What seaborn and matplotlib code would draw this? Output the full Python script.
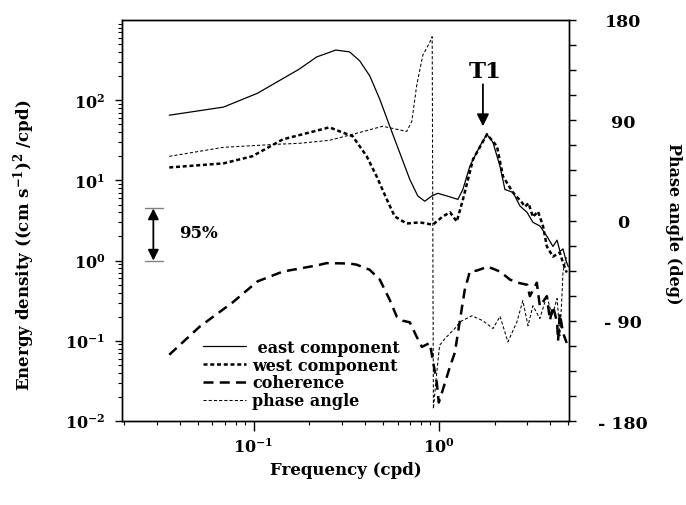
import numpy as np
import pandas as pd
import seaborn as sns
import matplotlib.pyplot as plt
from matplotlib.ticker import FixedLocator, FuncFormatter, LogLocator, MultipleLocator, NullFormatter

# datos (frecuencia en cpd)
freq_east = [0.0351, 0.0688, 0.105, 0.177, 0.219, 0.278, 0.330, 0.374, 0.424, 0.480,
             0.543, 0.615, 0.697, 0.770, 0.840, 0.917, 0.988, 1.105, 1.267, 1.348,
             1.471, 1.666, 1.817, 1.958, 2.137, 2.274, 2.512, 2.741, 2.992, 3.222,
             3.516, 3.836, 4.132, 4.345, 4.509, 4.679, 4.857, 5.0]
east = [65, 82, 122, 245, 346, 422, 400, 310, 201, 103,
        47.7, 22.2, 10.3, 6.4, 5.5, 6.4, 6.9, 6.4, 5.8, 7.7,
        15.1, 26.8, 37.6, 29.9, 15.1, 7.7, 7.1, 4.8, 4.0, 3.0,
        2.7, 2.0, 1.5, 1.8, 1.3, 1.4, 1.0, 0.84]

freq_west = [0.0351, 0.0688, 0.0985, 0.144, 0.257, 0.291, 0.343, 0.408, 0.462, 0.524,
             0.578, 0.671, 0.79, 0.928, 1.05, 1.15, 1.25, 1.35, 1.53, 1.82,
             2.06, 2.22, 2.51, 2.81, 2.92, 3.05, 3.22, 3.43, 3.65, 3.83,
             4.13, 4.5, 4.68, 4.9]
west = [14.5, 16.3, 20, 32.5, 45.9, 41, 35.5, 20, 11.2, 5.8,
        3.55, 2.9, 3.0, 2.8, 3.55, 4.0, 3.07, 5.8, 18.3, 37.6,
        26.6, 11.2, 7.1, 5.3, 4.7, 5.2, 3.5, 4.1, 2.7, 1.5,
        1.12, 1.26, 0.94, 0.71]

freq_coh = [0.0351, 0.0512, 0.077, 0.105, 0.144, 0.219, 0.248, 0.33, 0.36, 0.423,
            0.48, 0.543, 0.593, 0.639, 0.697, 0.76, 0.81, 0.894, 0.928, 0.975,
            1.0, 1.08, 1.15, 1.22, 1.3, 1.38, 1.47, 1.6, 1.84, 2.14,
            2.42, 2.67, 3.0, 3.1, 3.38, 3.51, 3.83, 3.98, 4.13, 4.35,
            4.4, 4.5, 4.68, 4.9]
coherence = [0.067, 0.15, 0.30, 0.55, 0.73, 0.87, 0.93, 0.92, 0.89, 0.77,
             0.58, 0.325, 0.2, 0.178, 0.17, 0.112, 0.084, 0.094, 0.058, 0.03,
             0.017, 0.03, 0.048, 0.071, 0.18, 0.43, 0.73, 0.75, 0.84, 0.73,
             0.58, 0.53, 0.5, 0.36, 0.53, 0.27, 0.36, 0.18, 0.27, 0.17,
             0.10, 0.22, 0.126, 0.094]

freq_phase = [0.0351, 0.0688, 0.133, 0.177, 0.257, 0.36, 0.498, 0.671, 0.715, 0.76,
              0.82, 0.894, 0.921, 0.935, 0.97, 1.01, 1.08, 1.22, 1.3, 1.51,
              1.73, 1.96, 2.14, 2.36, 2.64, 2.84, 3.03, 3.22, 3.51, 3.83,
              4.08, 4.35, 4.5, 4.62, 4.68, 4.9]
phase = [57.6, 65.7, 68.4, 69.3, 72, 78.3, 84.6, 80, 89, 121.5,
         148.5, 160, 165, -169, -140, -112, -106, -97, -91, -85.5,
         -90, -97, -86, -109, -91, -72, -94.5, -76.5, -88, -67.5,
         -85.5, -70, -103.5, -67.5, -46, -31.5]

# intervalo de confianza 95% y pico T1
conf_freq, conf_hi, conf_lo = 0.0288, 4.47, 1.0
t1_freq, t1_top, t1_tip = 1.73, 158, 47.3

phase_ticks = [-180, -90, 0, 90, 180]
phase_labels = ['- 180', '- 90', '0', '90', '180']

sns.set_style("ticks")
plt.rcParams['font.family'] = ['DejaVu Serif']
plt.rcParams['font.weight'] = 'bold'
plt.rcParams['mathtext.fontset'] = 'dejavuserif'
plt.rcParams['mathtext.default'] = 'bf'
plt.rcParams['axes.linewidth'] = 1.0
for k in ['text.color', 'axes.labelcolor', 'axes.edgecolor', 'xtick.color', 'ytick.color']:
    plt.rcParams[k] = 'black'

fig = plt.figure(figsize=(6.86, 5.06), dpi=100)
ax = fig.add_axes([0.1778, 0.166, 0.6516, 0.7925])

sns.lineplot(x=freq_east, y=east, ax=ax, color='black', lw=0.9,
             label=' east component', estimator=None, sort=False)
sns.lineplot(x=freq_west, y=west, ax=ax, color='black', lw=1.8,
             linestyle=(0, (1.6, 1.1)), label='west component', estimator=None, sort=False)
sns.lineplot(x=freq_coh, y=coherence, ax=ax, color='black', lw=1.8,
             linestyle=(0, (4, 2.5)), label='coherence', estimator=None, sort=False)

ax.set_xscale('log')
ax.set_yscale('log')
ax.set_xlim(0.0195, 5.04)
ax.set_ylim(1e-2, 1e3)

ax2 = ax.twinx()
sns.lineplot(x=freq_phase, y=phase, ax=ax2, color='black', lw=0.75,
             linestyle=(0, (3, 2)), label='phase angle', estimator=None, sort=False)
ax2.set_ylim(-180, 180)

# ejes y ticks
ax.yaxis.set_major_locator(FixedLocator([1e-2, 1e-1, 1e0, 1e1, 1e2]))
ax.yaxis.set_minor_locator(LogLocator(base=10, subs=np.arange(2, 10), numticks=30))
ax.yaxis.set_minor_formatter(NullFormatter())
ax.xaxis.set_major_locator(FixedLocator([0.1, 1.0]))
ax.xaxis.set_minor_locator(LogLocator(base=10, subs=np.arange(2, 10), numticks=30))
ax.xaxis.set_minor_formatter(NullFormatter())
fmt = FuncFormatter(lambda v, p: r'$10^{%d}$' % round(np.log10(v)))
ax.yaxis.set_major_formatter(fmt)
ax.xaxis.set_major_formatter(fmt)
ax.tick_params(which='both', direction='out', top=False, right=False, labelsize=11.5)
ax.tick_params(axis='y', which='major', length=5, width=1, pad=7)
ax.tick_params(axis='x', which='major', length=7, width=1, pad=5)
ax.tick_params(which='minor', length=3, width=0.8)

ax2.yaxis.set_major_locator(FixedLocator(phase_ticks))
ax2.set_yticklabels(phase_labels)
ax2.yaxis.set_minor_locator(MultipleLocator(22.5))
ax2.tick_params(axis='y', which='both', direction='out', length=5, width=1, labelsize=12.5, pad=34)
for lab in ax2.get_yticklabels():
    lab.set_ha('center')

ax.set_xlabel('Frequency (cpd)', fontsize=12, fontweight='bold', va='center')
ax.xaxis.set_label_coords(0.5, -0.122)
ax.set_ylabel(r'Energy density ((cm s$^{-1}$)$^{2}$ /cpd)', fontsize=12, fontweight='bold', va='center')
ax.yaxis.set_label_coords(-0.219, 0.44)
ax2.set_ylabel('Phase angle (deg)', fontsize=11.5, fontweight='bold', rotation=270, va='center')
ax2.yaxis.set_label_coords(1.233, 0.494)

# leyenda
for a in (ax, ax2):
    if a.get_legend() is not None:
        a.get_legend().remove()
h1, l1 = ax.get_legend_handles_labels()
h2, l2 = ax2.get_legend_handles_labels()
ax2.legend(h1 + h2, l1 + l2, loc='upper left', bbox_to_anchor=(0.181, 0.205),
           frameon=False, borderpad=0, borderaxespad=0, handlelength=2.7,
           handletextpad=0.4, labelspacing=0.05, prop={'size': 11.5, 'weight': 'bold'})

# marcador 95% y flecha T1
ax.annotate('', xy=(conf_freq, conf_lo), xytext=(conf_freq, conf_hi),
            arrowprops=dict(arrowstyle='<|-|>', color='black', lw=1.3,
                            mutation_scale=16, shrinkA=0, shrinkB=0))
ax.plot([conf_freq * 0.905, conf_freq * 1.13], [conf_hi, conf_hi], color='gray', lw=1)
ax.plot([conf_freq * 0.905, conf_freq * 1.13], [conf_lo, conf_lo], color='gray', lw=1)
ax.text(0.0398, 2.24, '95%', fontsize=12, fontweight='bold', va='center', ha='left')

ax.annotate('', xy=(t1_freq, t1_tip), xytext=(t1_freq, t1_top),
            arrowprops=dict(arrowstyle='-|>', color='black', lw=1.3,
                            mutation_scale=18, shrinkA=0, shrinkB=0))
ax.text(1.77, 229, 'T1', fontsize=16.5, fontweight='bold', va='center', ha='center')

fig.savefig('out.png', dpi=100)
